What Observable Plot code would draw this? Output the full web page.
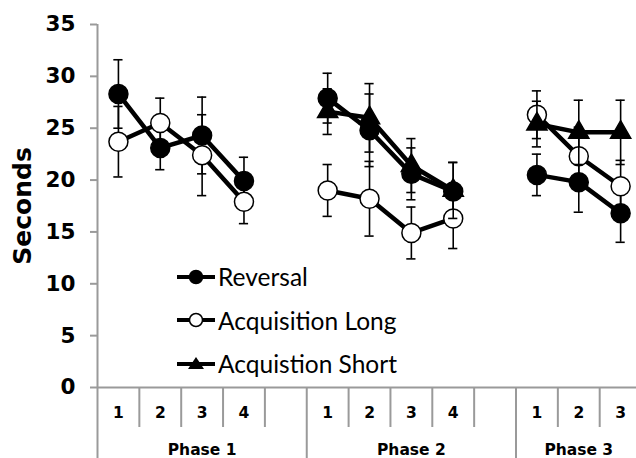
<!DOCTYPE html>
<html><head><meta charset="utf-8">
<script src="https://cdn.jsdelivr.net/npm/d3@7"></script>
<script src="https://cdn.jsdelivr.net/npm/@observablehq/plot@0.6"></script>
<style>
body{margin:0;background:#fff;}
#wrap{position:relative;width:636px;height:458px;overflow:hidden;}
#legend{position:absolute;left:177px;top:255px;font-family:Lato, sans-serif;font-size:24.5px;color:#000;}
.row{display:flex;align-items:center;height:43.5px;}
.row svg{display:block;margin-right:2px;}
#chart svg, #chart svg text, #chart svg g{font-family:Verdana, "DejaVu Sans", "DejaVu Sans Bold", sans-serif !important;font-weight:bold;}
</style></head><body><div id="wrap"><div id="chart"></div><div id="legend"></div></div>
<script>
const phases = ["Phase 1", "Phase 2", "Phase 3"];
const sessions = [["1","2","3","4"], ["1","2","3","4"], ["1","2","3"]];
const seriesNames = ["Reversal", "Acquisition Long", "Acquistion Short"];
const yTicks = [0, 5, 10, 15, 20, 25, 30, 35];

const reversalMean = [[28.3, 23.1, 24.3, 19.9], [27.9, 24.8, 20.6, 18.9], [20.5, 19.8, 16.8]];
const reversalErr  = [[3.3, 2.1, 3.7, 2.3], [2.4, 3.5, 2.5, 2.8], [2.0, 2.9, 2.8]];
const longMean     = [[23.7, 25.5, 22.4, 17.9], [19.0, 18.2, 14.9, 16.3], [26.3, 22.3, 19.4]];
const longErr      = [[3.4, 2.4, 3.9, 2.1], [2.5, 3.6, 2.5, 2.9], [2.3, 2.8, 2.5]];
const shortMean    = [null, [26.6, 26.0, 21.4, 19.0], [25.4, 24.6, 24.6]];
const shortErr     = [null, [2.2, 3.3, 2.6, 2.7], [2.2, 3.1, 3.1]];

// slot index on the x axis: each phase has its sessions plus one empty slot
const offsets = [];
let acc = 0;
sessions.forEach(s => { offsets.push(acc); acc += s.length + 1; });
const nSlots = acc - 1;

function rowsFor(name, means, errs) {
  const out = [];
  means.forEach((ph, p) => {
    if (!ph) return;
    ph.forEach((v, k) => out.push({series: name, phase: p, i: offsets[p] + k, v, e: errs[p][k]}));
  });
  return out;
}
const rev = rowsFor(seriesNames[0], reversalMean, reversalErr);
const lng = rowsFor(seriesNames[1], longMean, longErr);
const sht = rowsFor(seriesNames[2], shortMean, shortErr);

const sessionTicks = [], sessionLabels = new Map();
sessions.forEach((s, p) => s.forEach((lab, k) => { sessionTicks.push(offsets[p] + k); sessionLabels.set(offsets[p] + k, lab); }));
const phaseTicks = sessions.map((s, p) => offsets[p] + (p < sessions.length - 1 ? s.length / 2 : (s.length - 1) / 2));
const longSeps = offsets.map(o => o - 0.5);
const shortSeps = [];
sessions.forEach((s, p) => { for (let k = 0; k < s.length; k++) shortSeps.push(offsets[p] + k + 0.5); });

const gray = "#9a9a9a";
const cap = 0.11;
function seriesMarks(rows, dotOpts) {
  return [
    Plot.ruleX(rows, {x: "i", y1: d => d.v - d.e, y2: d => d.v + d.e, stroke: "black", strokeWidth: 1.6}),
    Plot.ruleY(rows, {y: d => d.v + d.e, x1: d => d.i - cap, x2: d => d.i + cap, stroke: "black", strokeWidth: 1.6}),
    Plot.ruleY(rows, {y: d => d.v - d.e, x1: d => d.i - cap, x2: d => d.i + cap, stroke: "black", strokeWidth: 1.6}),
    Plot.line(rows, {x: "i", y: "v", z: "phase", stroke: "black", strokeWidth: 4.5}),
    Plot.dot(rows, {x: "i", y: "v", stroke: "black", strokeWidth: 1.5, ...dotOpts})
  ];
}

const chart = Plot.plot({
  width: 636, height: 458,
  marginLeft: 97, marginTop: 24, marginBottom: 71, marginRight: 0,
  style: {fontWeight: "bold", color: "black", background: "white"},
  x: {domain: [-0.5, nSlots + 0.5], range: [97, 97 + (nSlots + 1) * 41.85]},
  y: {domain: [0, 35]},
  marks: [
    Plot.axisY({ticks: yTicks, tickSize: 7, tickPadding: 15, fontSize: 21.5, stroke: gray, strokeWidth: 2, label: null}),
    Plot.ruleX([-0.5], {y1: 0, y2: 35, stroke: gray, strokeWidth: 2}),
    Plot.axisX({ticks: shortSeps, tickSize: 40, tickFormat: () => "", stroke: gray, strokeWidth: 2, label: null}),
    Plot.axisX({ticks: longSeps, tickSize: 71, tickFormat: () => "", stroke: gray, strokeWidth: 2, label: null}),
    Plot.axisX({ticks: sessionTicks, tickSize: 0, tickPadding: 19, fontSize: 15.5, tickFormat: d => sessionLabels.get(d), label: null}),
    Plot.axisX({ticks: phaseTicks, tickSize: 0, tickPadding: 56, fontSize: 15.5, tickFormat: d => phases[phaseTicks.indexOf(d)], label: null}),
    Plot.ruleY([0], {stroke: gray, strokeWidth: 2}),
    Plot.text(["Seconds"], {frameAnchor: "left", textAnchor: "middle", dx: -75, rotate: -90, fontSize: 25, fontWeight: "bold"}),
    ...seriesMarks(rev, {r: 9.5, fill: "black"}),
    ...seriesMarks(lng, {r: 9.5, fill: "white"}),
    ...seriesMarks(sht, {r: 7.5, symbol: "triangle", fill: "black"})
  ]
});
document.getElementById("chart").append(chart);

// legend
const legend = document.getElementById("legend");
const symbols = [
  '<circle cx="19" cy="11" r="6.5" fill="black" stroke="black" stroke-width="1.5"/>',
  '<circle cx="19" cy="11" r="6.5" fill="white" stroke="black" stroke-width="1.5"/>',
  '<path d="M19,4 L27,16 L11,16 Z" fill="black"/>'
];
seriesNames.forEach((name, k) => {
  const row = document.createElement("div");
  row.className = "row";
  row.innerHTML = `<svg width="39" height="22"><line x1="0" x2="38" y1="11" y2="11" stroke="black" stroke-width="4"/>${symbols[k]}</svg><span>${name}</span>`;
  legend.append(row);
});
</script>
</body></html>
